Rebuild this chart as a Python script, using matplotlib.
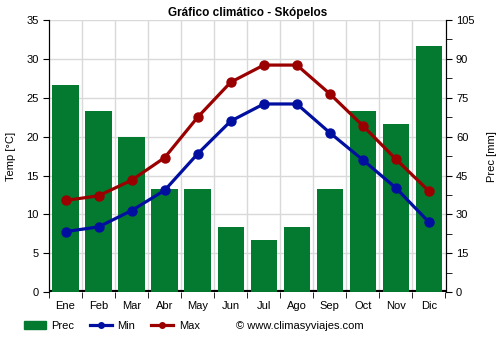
import matplotlib
matplotlib.use("Agg")
import matplotlib.pyplot as plt
import numpy as np
from matplotlib.lines import Line2D
from matplotlib.patches import Patch

months = ["Ene", "Feb", "Mar", "Abr", "May", "Jun", "Jul", "Ago", "Sep", "Oct", "Nov", "Dic"]
prec = [80, 70, 60, 40, 40, 25, 20, 25, 40, 70, 65, 95]
tmin = [7.8, 8.4, 10.5, 13.1, 17.8, 22.0, 24.2, 24.2, 20.5, 17.0, 13.4, 9.0]
tmax = [11.8, 12.4, 14.4, 17.3, 22.5, 27.0, 29.2, 29.2, 25.5, 21.4, 17.1, 13.0]

plt.rcParams['font.family'] = ['Liberation Sans', 'DejaVu Sans']

fig = plt.figure(figsize=(5, 3.5), dpi=100)
ax = fig.add_axes([0.098, 0.165, 0.793, 0.778])
ax2 = ax.twinx()
ax.set_zorder(ax2.get_zorder() + 1)
ax.patch.set_visible(False)

x = np.arange(len(months))
green = "#037a2f"
blue = "#000f9f"
red = "#9b0000"

for v in np.arange(15, 106, 15):
    ax2.axhline(v, color="#d9d9d9", lw=1, zorder=0)
for b in np.arange(0.5, 11.5, 1):
    ax2.axvline(b, color="#d9d9d9", lw=1, zorder=0)
ax2.axhline(0, color="black", lw=3, zorder=1)
ax2.bar(x, prec, width=0.8, color=green, zorder=2)

ax.plot(x, tmin, color=blue, lw=2.3, marker="o", ms=6.5, zorder=3)
ax.plot(x, tmax, color=red, lw=2.3, marker="o", ms=6.5, zorder=3)

ax.set_xlim(-0.5, 11.5)
ax.set_ylim(0, 35)
ax2.set_ylim(0, 105)

ax.set_yticks(np.arange(0, 36, 5))
ax2.set_yticks(np.arange(0, 106, 15))
ax2.set_yticks(np.arange(0, 106, 7.5), minor=True)

ax.set_xticks(x)
ax.set_xticklabels(months)
ax.set_xticks(np.arange(-0.5, 12, 1), minor=True)
ax.tick_params(axis="x", which="major", length=0, pad=6, labelsize=8)
ax.tick_params(axis="x", which="minor", length=4, color="black")
ax.tick_params(axis="y", labelsize=8, length=4)
ax2.tick_params(axis="y", which="both", labelsize=8, length=4)
ax2.tick_params(axis="x", length=0, labelbottom=False)

for a in (ax, ax2):
    a.spines["top"].set_visible(False)
    a.spines["bottom"].set_visible(False)
    a.spines["left"].set_color("black")
    a.spines["right"].set_color("black")

ax.set_ylabel("Temp [°C]", fontsize=8, labelpad=7)
ax2.set_ylabel("Prec [mm]", fontsize=8, labelpad=9)
ax.set_title("Gráfico climático - Skópelos", fontsize=8.5, fontweight="bold", pad=3)

handles = [
    Patch(color=green, label="Prec"),
    Line2D([0], [0], color=blue, lw=2.3, marker="o", ms=4, label="Min"),
    Line2D([0], [0], color=red, lw=2.3, marker="o", ms=4, label="Max"),
]
fig.legend(handles=handles, loc="center left", bbox_to_anchor=(0.027, 0.068), ncol=3,
           frameon=False, fontsize=8, handlelength=2.0, columnspacing=1.4,
           handletextpad=0.5)
fig.text(0.472, 0.068, "© www.climasyviajes.com", fontsize=8, va="center", ha="left")

fig.savefig("out.png", dpi=100)
